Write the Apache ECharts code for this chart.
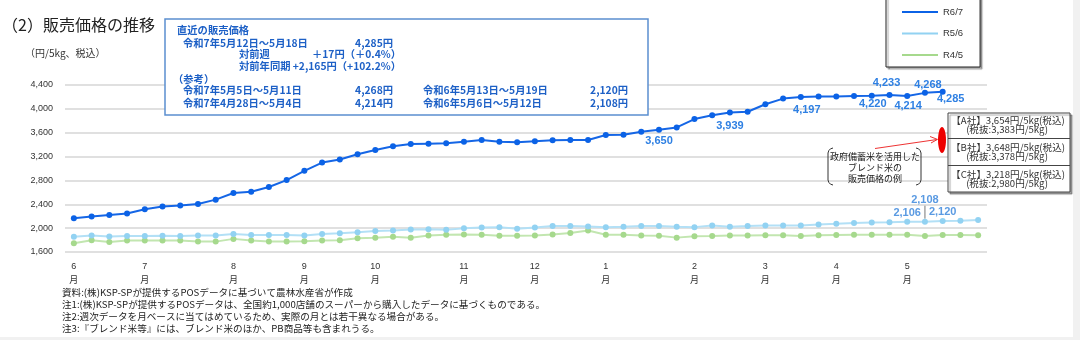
<!DOCTYPE html>
<html><head><meta charset="utf-8">
<script src="https://cdn.jsdelivr.net/npm/echarts@6/dist/echarts.min.js"></script>
<style>html,body{margin:0;padding:0;background:#fff}#c{width:1080px;height:340px}</style>
</head><body><div id="c"></div>
<script>
// ---- data ----
const weeks = ['6/3','6/10','6/17','6/24','7/1','7/8','7/15','7/22','7/29','8/5','8/12','8/19','8/26',
  '9/2','9/9','9/16','9/23','9/30','10/7','10/14','10/21','10/28','11/4','11/11','11/18','11/25',
  '12/2','12/9','12/16','12/23','12/30','1/6','1/13','1/20','1/27','2/3','2/10','2/17','2/24',
  '3/3','3/10','3/17','3/24','3/31','4/7','4/14','4/21','4/28','5/5','5/12','5/19','5/26'];
const monthTickIndex = [0,4,9,13,17,22,26,30,35,39,43,47];
const monthTickLabel = ['6','7','8','9','10','11','12','1','2','3','4','5'];
const seriesNames = ['R6/7','R5/6','R4/5'];
const r67 = [2167,2194,2222,2244,2317,2361,2378,2406,2478,2589,2611,2689,2806,2961,3100,3150,3240,
  3311,3372,3411,3417,3422,3450,3478,3450,3439,3456,3472,3478,3478,3561,3567,3617,3650,3688,3829,
  3892,3939,3952,4077,4172,4197,4206,4206,4214,4220,4233,4214,4268,4285];
const r56 = [1855,1878,1861,1867,1867,1872,1867,1878,1878,1901,1884,1884,1884,1878,1901,1913,1930,1954,1959,1977,1983,1971,
  2000,2011,2017,1988,2011,2034,2034,2029,2017,2023,2034,2034,2023,2017,2046,2023,2034,2046,2046,2046,2063,2075,
  2088,2095,2100,2106,2108,2120,2126,2137];
const r45 = [1745,1797,1768,1791,1791,1791,1791,1774,1774,1820,1791,1774,1774,1780,1791,1797,1832,1838,1855,1838,1878,1890,
  1894,1888,1871,1871,1876,1894,1918,1959,1888,1888,1876,1871,1841,1865,1870,1876,1876,1882,1882,1870,1880,1885,
  1890,1890,1890,1888,1868,1885,1885,1882];
const yTicks = {min:1600, max:4400, step:400};
const r67Labeled = [33,37,41,45,46,47,48,49];
const r56Labeled = [47,48,49];

// ---- styles ----
const JP = "'Noto Sans CJK JP', sans-serif";
const NUM = "'Liberation Sans', 'Noto Sans CJK JP', sans-serif";
const fmt = v => Number(v).toLocaleString('en-US');

const r67LabelStyle = {
  33:{position:'bottom',distance:3}, 37:{position:'bottom',distance:5}, 41:{position:'bottom',distance:4,offset:[6,0]},
  45:{position:'bottom',distance:0,offset:[1,0]}, 46:{position:'top',distance:3,offset:[-3,0]},
  47:{position:'bottom',distance:1,offset:[1,0]}, 48:{position:'top',distance:0,offset:[3,1]},
  49:{position:'bottom',distance:0,offset:[8,-1]}
};
const r56LabelStyle = {
  47:{position:'top',distance:0,offset:[-10,0]}, 48:{position:'top',distance:2,offset:[1,0]},
  49:{position:'top',distance:1,offset:[8,0]}
};
const leaderIdx = 48;
function withLabels(values, idxList, styleMap, color, leader){
  return values.map((v,i)=> {
    if (idxList.indexOf(i) < 0) return v;
    const item = {value:v, label:Object.assign({show:true, color:color, fontSize:11, fontWeight:'bold', fontFamily:NUM, formatter:p=>fmt(p.value)}, styleMap[i])};
    if (leader === i) item.labelLine = {show:true, length2:0, lineStyle:{color:'#777', width:1}};
    return item;
  });
}

const chart = echarts.init(document.getElementById('c'), null, {renderer:'canvas'});
const txt = (x,y,t,o) => Object.assign({type:'text', z:50, style:Object.assign({x:x,y:y,text:t,fill:'#222',font:'9px '+JP,textVerticalAlign:'middle'}, o||{})});
const blue = '#1d60c6';
const bf = 'bold 10.3px '+JP;
const nf = '9.6px '+JP;

const graphics = [
  {type:'rect', z:1, shape:{x:1073,y:0,width:7,height:340}, style:{fill:'#f1f1f1'}},
  {type:'rect', z:1, shape:{x:0,y:337,width:1080,height:3}, style:{fill:'#f1f1f1'}},
  txt(2,25,'（2）販売価格の推移',{font:'16px '+JP, fill:'#222'}),
  txt(25,53,'（円/5kg、税込）',{font:'10px '+JP, fill:'#333'}),
  // info box
  {type:'rect', z:40, shape:{x:165,y:19,width:483,height:96}, style:{fill:'#fff', stroke:'#5b8fd0', lineWidth:1.5}},
  txt(177,30,'直近の販売価格',{font:bf,fill:blue}),
  txt(183,43,'令和7年5月12日～5月18日',{font:bf,fill:blue}),
  txt(393,43,'4,285円',{font:bf,fill:blue,textAlign:'right'}),
  txt(239,54,'対前週',{font:bf,fill:blue}),
  txt(401,54,'＋17円（＋0.4%）',{font:bf,fill:blue,textAlign:'right'}),
  txt(239,66,'対前年同期',{font:bf,fill:blue}),
  txt(401,66,'+2,165円（+102.2%）',{font:bf,fill:blue,textAlign:'right'}),
  txt(173,79,'（参考）',{font:bf,fill:blue}),
  txt(183,90,'令和7年5月5日～5月11日',{font:bf,fill:blue}),
  txt(393,90,'4,268円',{font:bf,fill:blue,textAlign:'right'}),
  txt(423,90,'令和6年5月13日～5月19日',{font:bf,fill:blue}),
  txt(628,90,'2,120円',{font:bf,fill:blue,textAlign:'right'}),
  txt(183,103,'令和7年4月28日～5月4日',{font:bf,fill:blue}),
  txt(393,103,'4,214円',{font:bf,fill:blue,textAlign:'right'}),
  txt(423,103,'令和6年5月6日～5月12日',{font:bf,fill:blue}),
  txt(628,103,'2,108円',{font:bf,fill:blue,textAlign:'right'}),
  // blend rice example box
  {type:'rect', z:40, shape:{x:948,y:113,width:122,height:79}, style:{fill:'#fff', stroke:'#444', lineWidth:1, shadowColor:'rgba(0,0,0,0.35)', shadowOffsetX:2, shadowOffsetY:2, shadowBlur:1}},
  {type:'line', z:41, shape:{x1:948,y1:138.5,x2:1070,y2:138.5}, style:{stroke:'#444',lineWidth:1}},
  {type:'line', z:41, shape:{x1:948,y1:165.5,x2:1070,y2:165.5}, style:{stroke:'#444',lineWidth:1}},
  txt(1008,120,'【A社】3,654円/5kg(税込)',{textAlign:'center',fill:'#333',font:nf}),
  txt(1007,129.5,'(税抜:3,383円/5kg)',{textAlign:'center',fill:'#333',font:nf}),
  txt(1008,147,'【B社】3,648円/5kg(税込)',{textAlign:'center',fill:'#333',font:nf}),
  txt(1007,156.5,'(税抜:3,378円/5kg)',{textAlign:'center',fill:'#333',font:nf}),
  txt(1008,174,'【C社】3,218円/5kg(税込)',{textAlign:'center',fill:'#333',font:nf}),
  txt(1007,183.5,'(税抜:2,980円/5kg)',{textAlign:'center',fill:'#333',font:nf}),
  {type:'ellipse', z:45, shape:{cx:942,cy:140,rx:4,ry:13}, style:{fill:'#ee0000'}},
  {type:'polyline', z:45, shape:{points:[[875,148.5],[937,139.5]]}, style:{stroke:'#e33',lineWidth:1}},
  {type:'polyline', z:45, shape:{points:[[930,136.5],[937.5,139.4],[931,143]]}, style:{stroke:'#e33',lineWidth:1,fill:null}},
  // callout brackets
  {type:'polyline', z:45, shape:{points:[[833,148],[830.5,148.8],[828.8,150.6],[828,153],[828,180],[828.8,182.4],[830.5,184.2],[833,185]]}, style:{stroke:'#333',lineWidth:1,fill:null}},
  {type:'polyline', z:45, shape:{points:[[916,148],[918.5,148.8],[920.2,150.6],[921,153],[921,180],[920.2,182.4],[918.5,184.2],[916,185]]}, style:{stroke:'#333',lineWidth:1,fill:null}},
  txt(875,157,'政府備蓄米を活用した',{textAlign:'center'}),
  txt(875,168,'ブレンド米の',{textAlign:'center'}),
  txt(875,178.5,'販売価格の例',{textAlign:'center'}),
  // notes
  txt(62,292,'資料:(株)KSP-SPが提供するPOSデータに基づいて農林水産省が作成',{font:nf}),
  txt(62,304,'注1:(株)KSP-SPが提供するPOSデータは、全国約1,000店舗のスーパーから購入したデータに基づくものである。',{font:nf}),
  txt(62,316,'注2:週次データを月ベースに当てはめているため、実際の月とは若干異なる場合がある。',{font:nf}),
  txt(62,328,'注3:『ブレンド米等』には、ブレンド米のほか、PB商品等も含まれうる。',{font:nf})
];

const option = {
  animation:false,
  backgroundColor:'#fff',
  grid:{left:65, right:93, top:85, bottom:88, outerBoundsMode:'none'},
  legend:{
    orient:'vertical', left:886, top:-6, padding:[12,17,6,16], itemGap:9.5,
    itemWidth:36, itemHeight:2, icon:'rect', data:seriesNames,
    backgroundColor:'#fff', borderColor:'#222', borderWidth:1,
    shadowColor:'rgba(0,0,0,0.35)', shadowOffsetX:2, shadowOffsetY:2, shadowBlur:1,
    textStyle:{fontSize:9.5, color:'#333', fontFamily:NUM, lineHeight:12}, z:60
  },
  xAxis:{
    type:'category', data:weeks, boundaryGap:true,
    axisLine:{show:false}, axisTick:{show:false}, splitLine:{show:false},
    axisLabel:{interval:0, margin:8, fontSize:9, lineHeight:14, color:'#333', fontFamily:NUM,
      formatter:(v,i)=>{const k=monthTickIndex.indexOf(i); return k>=0 ? monthTickLabel[k]+'\n月' : '';}}
  },
  yAxis:{
    type:'value', min:yTicks.min, max:yTicks.max, interval:yTicks.step,
    axisLine:{show:false}, axisTick:{show:false},
    splitLine:{lineStyle:{color:'#e0e0e0', width:2}},
    axisLabel:{formatter:fmt, fontSize:9, color:'#333', margin:12, fontFamily:NUM}
  },
  series:[
    {name:'R6/7', type:'line', z:5, data:withLabels(r67, r67Labeled, r67LabelStyle, '#2f80e3', -1),
      symbol:'circle', symbolSize:6, color:'#0b62e6', lineStyle:{width:2, color:'#1566e6'}},
    {name:'R5/6', type:'line', z:4, data:withLabels(r56, r56Labeled, r56LabelStyle, '#5a9ae2', leaderIdx),
      symbol:'circle', symbolSize:6, color:'#92d2f2', lineStyle:{width:2, color:'#b3e0f6'},
      labelLayout:p => p.dataIndex === leaderIdx ? {dy:-11} : {}},
    {name:'R4/5', type:'line', z:3, data:r45,
      symbol:'circle', symbolSize:6, color:'#a6d98d', lineStyle:{width:2, color:'#c2e6b0'}}
  ],
  graphic:graphics
};
chart.setOption(option);
</script></body></html>
